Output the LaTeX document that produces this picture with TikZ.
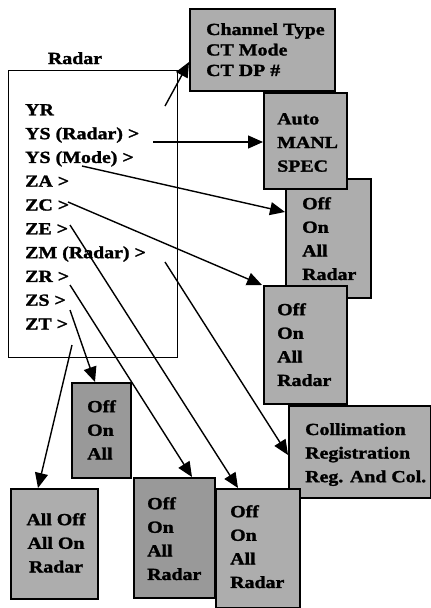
\documentclass[tikz,border=0pt]{standalone}
\usepackage{fontspec}
\setmainfont{Liberation Serif}[FakeStretch=1.17, BoldFeatures={FakeBold=1.5}]
\usetikzlibrary{arrows.meta,calc}
\begin{document}
\begin{tikzpicture}[x=1pt,y=-1pt,
  box/.style={draw, line width=1.8pt, fill=black!32, anchor=north west, inner sep=0pt},
  darkbox/.style={box, fill=black!40},
  mainbox/.style={draw, line width=1.4pt, fill=white, anchor=north west, inner sep=0pt},
  txt/.style={anchor=north west, inner sep=0pt, align=left, font=\bfseries\fontsize{17}{23.6}\selectfont},
  ctxt/.style={txt, anchor=north, align=center},
  arr/.style={line width=1.4pt, -{Triangle[length=15pt,width=13pt]}}]
\useasboundingbox (0,0) rectangle (431,608);

% main box
\node[mainbox, minimum width=169pt, minimum height=287pt] (m) at (8,70) {};
\node[anchor=base, inner sep=0pt, font=\bfseries\fontsize{17}{20}\selectfont] (mt) at (75,64) {Radar};
\node[txt, font=\bfseries\fontsize{17}{23.8}\selectfont] (mtext) at (25,104) {YR\\YS (Radar) >\\YS (Mode) >\\ZA >\\ZC >\\ZE >\\ZM (Radar) >\\ZR >\\ZS >\\ZT >};

% option boxes
\node[box, minimum width=85pt, minimum height=119pt] (b3) at (285,178) {};
\node[box, minimum width=83pt, minimum height=96pt] (b2) at (263,92) {};
\node[box, minimum width=145pt, minimum height=82pt] (b1) at (189,8) {};
\node[box, minimum width=83pt, minimum height=118pt] (b4) at (263,285) {};
\node[box, minimum width=142pt, minimum height=92pt] (b5) at (288,405) {};
\node[box, minimum width=84pt, minimum height=119pt] (b9) at (215,488) {};
\node[darkbox, minimum width=81pt, minimum height=120pt] (b8) at (133,477) {};
\node[darkbox, minimum width=59pt, minimum height=95pt] (b6) at (71,382) {};
\node[box, minimum width=87pt, minimum height=110pt] (b7) at (10,488) {};

\node[txt, font=\bfseries\fontsize{17}{20.5}\selectfont] (t1) at (206,23) {Channel Type\\CT Mode\\CT DP \#};
\node[txt] (t2) at (277,113) {Auto\\MANL\\SPEC};
\node[txt] (t3) at (302,197) {Off\\On\\All\\Radar};
\node[txt] (t4) at (277,303) {Off\\On\\All\\Radar};
\node[txt] (t5) at (305,423) {Collimation\\Registration\\Reg. And Col.};
\node[txt] (t6) at (87,400) {Off\\On\\All};
\node[ctxt] (t7) at (56,513) {All Off\\All On\\Radar};
\node[txt] (t8) at (147,497) {Off\\On\\All\\Radar};
\node[txt] (t9) at (230,505) {Off\\On\\All\\Radar};

% connector start points
\coordinate (s1) at (165,106);
\coordinate (s2) at (153,142);
\coordinate (s3) at (82,166);
\coordinate (s4) at (68,202);
\coordinate (s5) at (70,225);
\coordinate (s6) at (165,262);
\coordinate (s7) at (70,285);
\coordinate (s8) at (70,310);
\coordinate (s9) at (72,345);

\draw[arr] (s1) -- ($(b1.north west)+(0,54)$);
\draw[arr] (s2) -- (b2.west |- s2);
\draw[arr] (s3) -- ($(b3.north west)+(0,34)$);
\draw[arr] (s4) -- ($(b4.north west)+(-1,0)$);
\draw[arr] (s5) -- ($(b9.north west)+(23,0)$);
\draw[arr] (s6) -- ($(b5.north west)+(0,50)$);
\draw[arr] (s7) -- ($(b8.north west)+(59,0)$);
\draw[arr] (s8) -- ($(b6.north west)+(24,0)$);
\draw[arr] (s9) -- ($(b7.north west)+(28,0)$);
\end{tikzpicture}
\end{document}
